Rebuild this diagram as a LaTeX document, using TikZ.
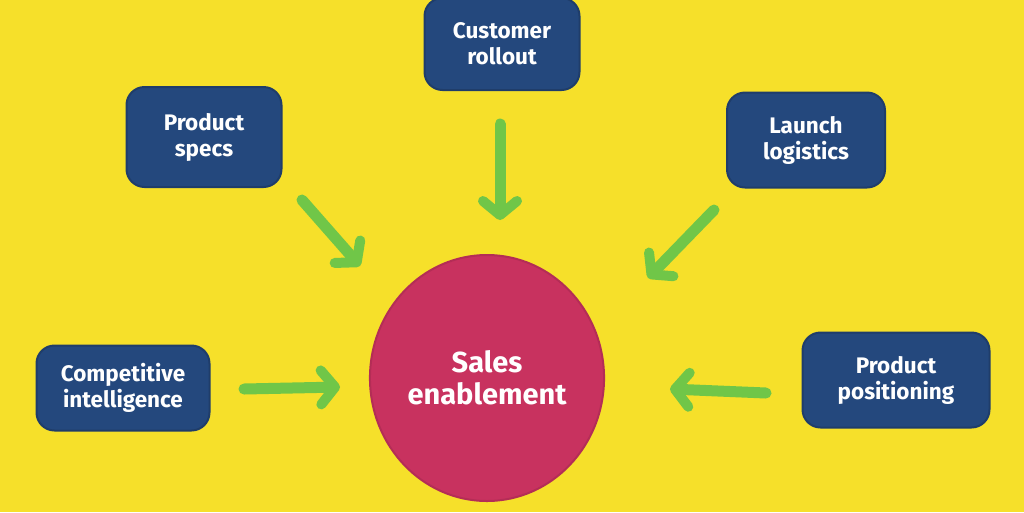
\documentclass[tikz,border=0pt]{standalone}
\usepackage{fontspec}
\setmainfont{Fira Sans}
\usetikzlibrary{arrows.meta,shapes.geometric}
\definecolor{bgyellow}{RGB}{246,224,42}
\definecolor{boxblue}{RGB}{36,72,125}
\definecolor{hubred}{RGB}{200,50,95}
\definecolor{arrgreen}{RGB}{112,198,72}
\tikzset{
  topic/.style={fill=boxblue, draw=boxblue!85!black, line width=2pt, rounded corners=18pt,
    text=white, font=\fontsize{22.5}{26}\selectfont\bfseries, align=center, inner sep=0pt},
  hub/.style={ellipse, fill=hubred, draw=hubred!90!black, line width=2pt, minimum width=230pt, minimum height=246pt,
    text=white, font=\fontsize{29}{32}\selectfont\bfseries, align=center},
  flow/.style={draw=arrgreen, line width=11pt, line cap=round, line join=round,
    -{Straight Barb[length=14pt,width=34pt,line width=10pt,round]}}
}
\begin{document}
\begin{tikzpicture}[x=1pt,y=-1pt]
\fill[bgyellow] (0,0) rectangle (1024,512);
\useasboundingbox (0,0) rectangle (1024,512);
\node[topic, minimum width=155pt, minimum height=92pt] (cust) at (502,44) {Customer\\rollout};
\node[topic, minimum width=155pt, minimum height=100pt] (spec) at (204,137) {Product\\specs};
\node[topic, minimum width=158pt, minimum height=95pt] (laun) at (806,140) {Launch\\logistics};
\node[topic, minimum width=173pt, minimum height=85pt] (comp) at (123,388) {Competitive\\intelligence};
\node[topic, minimum width=187pt, minimum height=95pt] (posi) at (896,380) {Product\\positioning};
\node[hub] (sales) at (487,378) {Sales\\enablement};
\coordinate (s1) at (302,200); \coordinate (s2) at (360,266);
\coordinate (c1) at (500,124); \coordinate (c2) at (500,220);
\coordinate (l1) at (714,210); \coordinate (l2) at (648,278);
\coordinate (k1) at (244,389); \coordinate (k2) at (340,387);
\coordinate (p1) at (766,393); \coordinate (p2) at (670,389);
\draw[flow] (s1) -- (s2);
\draw[flow] (c1) -- (c2);
\draw[flow] (l1) -- (l2);
\draw[flow] (k1) -- (k2);
\draw[flow] (p1) -- (p2);
\end{tikzpicture}
\end{document}
